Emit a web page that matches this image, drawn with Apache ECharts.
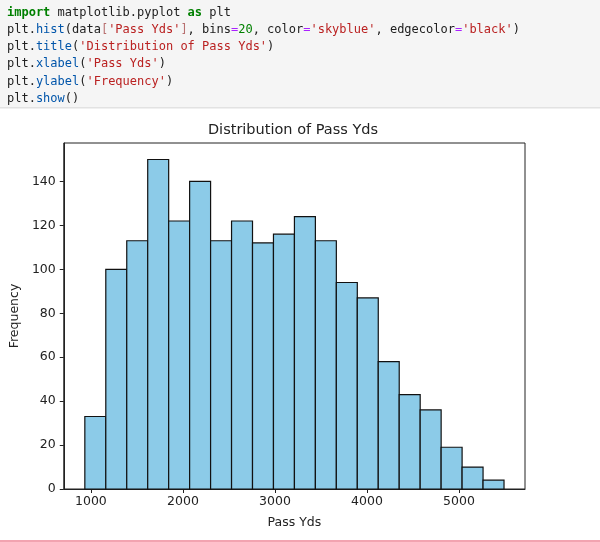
<!DOCTYPE html>
<html lang="en">
<head>
    <meta charset="UTF-8">
    <title>Distribution of Pass Yds</title>
    <style>
        html, body { margin: 0; padding: 0; background: #fff; }
    </style>
</head>
<body>
    <div id="app" style="width: 600px;height:542px;"></div>
    <script src="https://cdn.jsdelivr.net/npm/echarts@6/dist/echarts.min.js"></script>
    <script>
        // histogram (20 bins)
        const binStart = 934;
        const binWidth = 227.75;
        const counts = [33, 100, 113, 150, 122, 140, 113, 122, 112, 116, 124, 113, 94, 87, 58, 43, 36, 19, 10, 4];
        const xTicks = [1000, 2000, 3000, 4000, 5000];
        const yTicks = [0, 20, 40, 60, 80, 100, 120, 140];

        // code cell lines, as [style, text] tokens
        const codeLines = [
            [['kw', 'import'], ['t', ' matplotlib.pyplot '], ['kw', 'as'], ['t', ' plt']],
            [['t', 'plt.'], ['fn', 'hist'], ['t', '(data'], ['br', '['], ['s', "'Pass Yds'"], ['br', ']'], ['t', ', bins'], ['op', '='], ['num', '20'], ['t', ', color'], ['op', '='], ['s', "'skyblue'"], ['t', ', edgecolor'], ['op', '='], ['s', "'black'"], ['t', ')']],
            [['t', 'plt.'], ['fn', 'title'], ['t', '('], ['s', "'Distribution of Pass Yds'"], ['t', ')']],
            [['t', 'plt.'], ['fn', 'xlabel'], ['t', '('], ['s', "'Pass Yds'"], ['t', ')']],
            [['t', 'plt.'], ['fn', 'ylabel'], ['t', '('], ['s', "'Frequency'"], ['t', ')']],
            [['t', 'plt.'], ['fn', 'show'], ['t', '()']]
        ];

        const bins = counts.map((c, i) => [binStart + i * binWidth, binStart + (i + 1) * binWidth, c]);

        const font = 'DejaVu Sans';
        const mono = 'DejaVu Sans Mono';
        const ink = '#222';

        const tok = (fill, bold) => ({ fill: fill, fontFamily: mono, fontSize: 12, fontWeight: bold ? 'bold' : 'normal' });
        const codeRich = {
            t: tok('#212121'),
            kw: tok('#008000', true),
            fn: tok('#0055aa'),
            s: tok('#ba2121'),
            br: tok('#b87070'),
            op: tok('#aa22ff'),
            num: tok('#008000')
        };

        const codeTexts = codeLines.map((line, i) => ({
            type: 'text',
            x: 7,
            y: 12.7 + i * 17.2,
            style: {
                text: line.map(([k, s]) => '{' + k + '|' + s + '}').join(''),
                rich: codeRich,
                font: '12px "DejaVu Sans Mono"',
                fill: '#212121',
                verticalAlign: 'middle'
            }
        }));

        const myChart = echarts.init(document.getElementById('app'));
        const options = {
            animation: false,
            backgroundColor: '#fff',
            textStyle: { fontFamily: font },
            grid: {
                left: 61.5, right: 75, top: 143, bottom: 53,
                show: true, borderColor: ink, borderWidth: 1, backgroundColor: '#fff'
            },
            graphic: [
                { type: 'rect', shape: { x: 0, y: 0, width: 600, height: 107 }, style: { fill: '#f5f5f5' } },
                { type: 'rect', shape: { x: 0, y: 107, width: 600, height: 1.5 }, style: { fill: '#e2e2e2' } },
                ...codeTexts,
                {
                    type: 'text', x: 293, y: 130,
                    style: { text: 'Distribution of Pass Yds', font: '14.5px "DejaVu Sans"', fill: ink, align: 'center', verticalAlign: 'middle' }
                },
                { type: 'rect', shape: { x: 0, y: 540, width: 600, height: 2 }, style: { fill: '#f2a3b0' } }
            ],
            xAxis: {
                type: 'value',
                min: 705,
                max: 5717,
                name: 'Pass Yds',
                nameLocation: 'middle',
                nameGap: 27,
                nameTextStyle: { fontSize: 12.5, color: ink, fontFamily: font },
                splitLine: { show: false },
                axisLine: { show: true, lineStyle: { color: ink, width: 1 } },
                axisTick: { show: true, length: 4, customValues: xTicks, lineStyle: { color: ink } },
                axisLabel: {
                    customValues: xTicks, margin: 6, fontSize: 12.5, color: ink, fontFamily: font,
                    formatter: v => String(v)
                }
            },
            yAxis: {
                type: 'value',
                min: 0,
                max: 157.5,
                name: 'Frequency',
                nameLocation: 'middle',
                nameGap: 38,
                nameTextStyle: { fontSize: 12.5, color: ink, fontFamily: font },
                splitLine: { show: false },
                axisLine: { show: true, lineStyle: { color: ink, width: 1 } },
                axisTick: { show: true, length: 4, customValues: yTicks, lineStyle: { color: ink } },
                axisLabel: { customValues: yTicks, margin: 8, fontSize: 12.5, color: ink, fontFamily: font }
            },
            series: [{
                type: 'custom',
                data: bins,
                encode: { x: [0, 1], y: 2 },
                renderItem: function (params, api) {
                    const topLeft = api.coord([api.value(0), api.value(2)]);
                    const bottomRight = api.coord([api.value(1), 0]);
                    return {
                        type: 'rect',
                        shape: {
                            x: topLeft[0],
                            y: topLeft[1],
                            width: bottomRight[0] - topLeft[0],
                            height: bottomRight[1] - topLeft[1]
                        },
                        style: { fill: '#8ccbe8', stroke: '#111', lineWidth: 1.2 }
                    };
                }
            }]
        };
        myChart.setOption(options);
    </script>
</body>
</html>
